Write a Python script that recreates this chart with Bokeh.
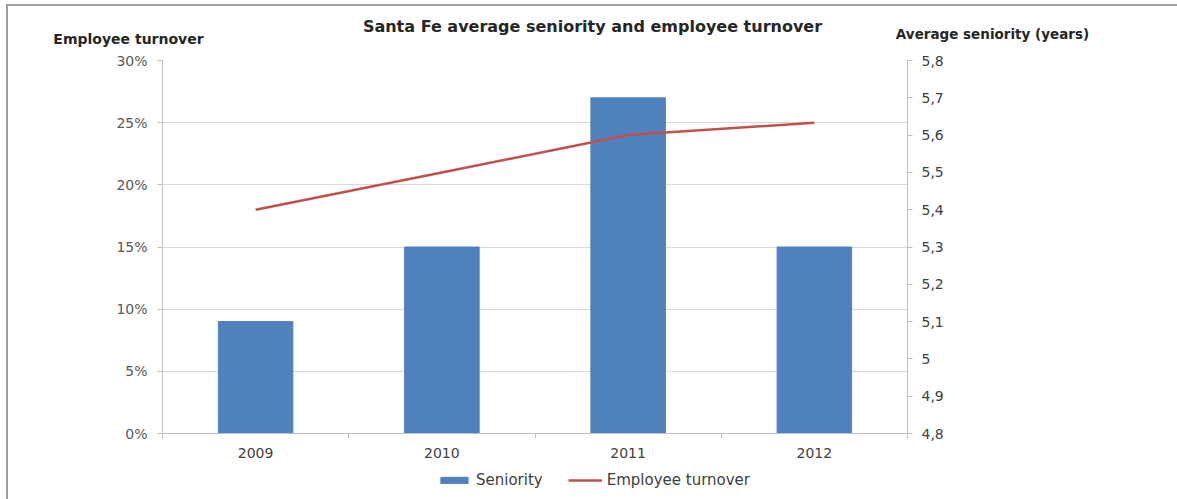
from bokeh.plotting import figure
from bokeh.models import (Range1d, LinearAxis, FixedTicker, Label, Legend, LegendItem,
                          ColumnDataSource)
from bokeh.embed import file_html
from bokeh.resources import INLINE

years = ["2009", "2010", "2011", "2012"]
seniority = [5.1, 5.3, 5.7, 5.3]          # right axis, years
turnover = [0.18, 0.21, 0.24, 0.25]       # left axis, share
left_ticks = [0, 0.05, 0.10, 0.15, 0.20, 0.25, 0.30]
left_labels = ["0%", "5%", "10%", "15%", "20%", "25%", "30%"]
right_ticks = [4.8, 4.9, 5.0, 5.1, 5.2, 5.3, 5.4, 5.5, 5.6, 5.7, 5.8]
right_labels = ["4,8", "4,9", "5", "5,1", "5,2", "5,3", "5,4", "5,5", "5,6", "5,7", "5,8"]
title_text = "Santa Fe average seniority and employee turnover"
left_title = "Employee turnover"
right_title = "Average seniority (years)"

FONT = "DejaVu Sans"
TXT = "#595959"
AXC = "#BFBFBF"
BAR = "#4F81BD"
LINE = "#C0504D"
W = 1177
TOP_H = 50
EDGE = "#9C9C9C"

LEFT_EDGE = f"linear-gradient({EDGE},{EDGE}) 6px 0px / 2px 100% no-repeat"
LEFT_EDGE_TOP = f"linear-gradient({EDGE},{EDGE}) 6px 4px / 2px 100% no-repeat"
TOP_EDGE = f"linear-gradient({EDGE},{EDGE}) 6px 4px / 1171px 2px no-repeat"


def bare(fig):
    fig.outline_line_color = None
    fig.xgrid.visible = False
    fig.ygrid.visible = False
    fig.border_fill_color = None


# ---------- top strip with title texts ----------
top = figure(width=W, height=TOP_H, output_backend="svg", toolbar_location=None,
             x_range=Range1d(0, W), y_range=Range1d(TOP_H, 0),
             min_border=0, x_axis_location=None, y_axis_location=None)
top.styles = {"background": TOP_EDGE + ", " + LEFT_EDGE_TOP}
bare(top)
top.background_fill_color = None


def lab(x, y, text, size, color="#262626"):
    top.add_layout(Label(x=x, y=y, text=text, text_font=FONT, text_font_size=size,
                         text_font_style="bold", text_color=color,
                         text_align="center", text_baseline="middle"))


lab(592, 26, title_text, "16px")
lab(128, 38, left_title, "14px")
lab(992, 33, right_title, "13.5px")

# ---------- main chart ----------
xpos = [i + 0.5 for i in range(len(years))]
src = ColumnDataSource(dict(x=xpos, sen=seniority, tur=turnover, bottom=[4.8] * 4))

p = figure(width=W, height=416, output_backend="svg", toolbar_location=None,
           x_range=Range1d(0, 4), y_range=Range1d(0, 0.30),
           min_border_left=162, min_border_right=270, min_border_top=10,
           min_border_bottom=33, x_axis_location=None, y_axis_location=None)
p.extra_y_ranges = {"right": Range1d(4.8, 5.8)}
p.styles = {"background": LEFT_EDGE}
bare(p)
p.background_fill_color = "white"

la = LinearAxis(ticker=FixedTicker(ticks=left_ticks, minor_ticks=[]),
                major_label_overrides={t: l for t, l in zip(left_ticks, left_labels)})
ba = LinearAxis(ticker=FixedTicker(ticks=xpos, minor_ticks=[0, 1, 2, 3, 4]),
                major_label_overrides={x: y for x, y in zip(xpos, years)})
ra = LinearAxis(y_range_name="right",
                ticker=FixedTicker(ticks=right_ticks, minor_ticks=[]),
                major_label_overrides={t: l for t, l in zip(right_ticks, right_labels)})
for ax in (la, ba, ra):
    ax.axis_line_color = AXC
    ax.axis_line_width = 1
    ax.major_tick_line_color = AXC
    ax.minor_tick_line_color = AXC
    ax.major_tick_in = 0
    ax.major_tick_out = 5
    ax.minor_tick_in = 0
    ax.minor_tick_out = 0
    ax.major_label_text_font = FONT
    ax.major_label_text_font_size = "14px"
    ax.major_label_text_color = TXT
ba.major_tick_out = 0
ba.minor_tick_out = 5
ba.major_label_standoff = 9
ba.major_label_text_color = "#404040"
la.major_label_standoff = 10
ra.major_label_standoff = 9
ra.major_label_text_color = "#404040"
p.add_layout(la, "left")
p.add_layout(ba, "below")
p.add_layout(ra, "right")

p.ygrid.visible = True
p.ygrid.ticker = FixedTicker(ticks=left_ticks)
p.ygrid.grid_line_color = "#D9D9D9"
p.ygrid.grid_line_width = 1

p.vbar(x="x", top="sen", bottom="bottom", width=0.4, source=src,
       y_range_name="right", fill_color=BAR, line_color=BAR)
p.line(x="x", y="tur", source=src, line_color=LINE, line_width=2.5)

# ---------- bottom strip with legend (series kept outside its view) ----------
bot = figure(width=W, height=33, output_backend="svg", toolbar_location=None,
             x_range=Range1d(10, 11), y_range=Range1d(10, 11),
             min_border=0, x_axis_location=None, y_axis_location=None)
bot.styles = {"background": LEFT_EDGE}
bare(bot)
bot.background_fill_color = None
key_src = ColumnDataSource(dict(x=xpos, sen=seniority, tur=turnover, bottom=[4.8] * 4))
kb = bot.vbar(x="x", top="sen", bottom="bottom", width=0.4, source=key_src,
              fill_color=BAR, line_color=BAR)
kl = bot.line(x="x", y="tur", source=key_src, line_color=LINE, line_width=2.5)
legend = Legend(items=[LegendItem(label="Seniority", renderers=[kb]),
                       LegendItem(label="Employee turnover", renderers=[kl])],
                orientation="horizontal", location=(437, 10),
                border_line_color=None, background_fill_alpha=0,
                label_text_font=FONT, label_text_font_size="15px",
                label_text_color="#404040", glyph_width=34, glyph_height=8,
                spacing=25, padding=0, margin=0, label_standoff=5)
bot.add_layout(legend, "center")

open("out.html", "w").write(file_html([top, p, bot], INLINE))
